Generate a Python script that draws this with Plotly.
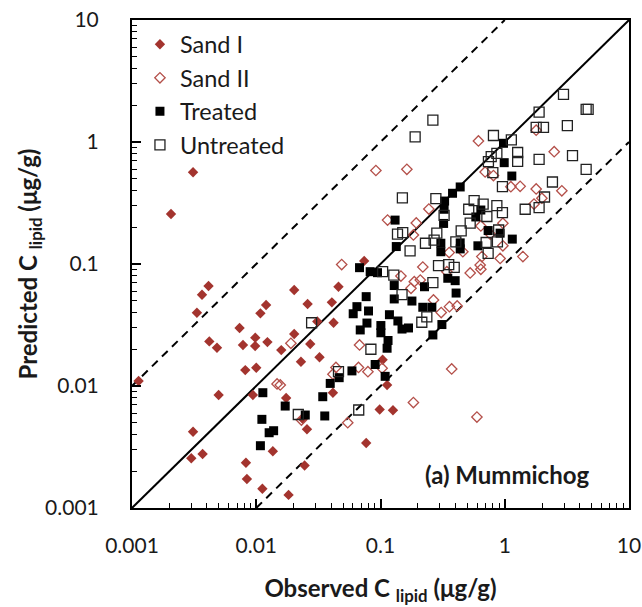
import plotly.graph_objects as go

# ---------------- data ----------------
sand1_x = [0.00206, 0.0031, 0.00113, 0.00333, 0.00366, 0.00413, 0.00419, 0.00483, 0.00498, 0.0031,
           0.0030, 0.0037, 0.00734, 0.00782, 0.00816, 0.00982, 0.0098, 0.0100, 0.0108, 0.0120,
           0.0123, 0.0094, 0.00826, 0.00841, 0.0112, 0.0182, 0.0136, 0.0159, 0.0174, 0.0202,
           0.0202, 0.0229, 0.0259, 0.0272, 0.0323, 0.031, 0.0406, 0.0459, 0.0419, 0.0414,
           0.0256, 0.0237, 0.0245, 0.0767, 0.0739, 0.104, 0.113, 0.0985, 0.126]
sand1_y = [0.257, 0.565, 0.0110, 0.0399, 0.056, 0.066, 0.0232, 0.0206, 0.00844, 0.00422,
           0.00256, 0.00277, 0.0299, 0.0217, 0.0135, 0.0249, 0.0213, 0.0141, 0.0394, 0.0461,
           0.0229, 0.00844, 0.00235, 0.00173, 0.00144, 0.00128, 0.00292, 0.0197, 0.00797, 0.0612,
           0.0267, 0.0158, 0.047, 0.0221, 0.0172, 0.0338, 0.0485, 0.0651, 0.033, 0.00881,
           0.00442, 0.00537, 0.00223, 0.00341, 0.106, 0.0164, 0.0102, 0.00642, 0.00632]

sand2_x = [0.0487, 0.0918, 0.163, 0.245, 0.114, 0.194, 0.184, 0.357, 0.219, 0.342,
           0.146, 0.187, 0.209, 0.176, 0.267, 0.308, 0.359, 0.414, 0.019, 0.0147,
           0.0156, 0.0231, 0.0438, 0.0414, 0.0545, 0.0678, 0.0665, 0.0792, 0.103, 0.184,
           0.374, 0.597, 0.614, 1.79, 2.50, 0.695, 0.811, 1.12, 1.33, 1.79,
           2.88, 1.99, 1.72, 0.642, 0.966, 0.763, 0.966, 0.46, 0.654, 0.918,
           1.40, 0.634, 0.642, 0.527]
sand2_y = [0.099, 0.584, 0.597, 0.282, 0.229, 0.217, 0.173, 0.124, 0.0945, 0.0865,
           0.0797, 0.0716, 0.0739, 0.0632, 0.0507, 0.040, 0.0447, 0.0453, 0.0224, 0.0104,
           0.0102, 0.00526, 0.0142, 0.0125, 0.0050, 0.0217, 0.0142, 0.0131, 0.014, 0.00732,
           0.0138, 0.00557, 1.02, 1.25, 0.832, 0.568, 0.531, 0.430, 0.433, 0.412,
           0.398, 0.346, 0.31, 0.205, 0.216, 0.176, 0.141, 0.126, 0.115, 0.111,
           0.115, 0.098, 0.0905, 0.0844]

treated_x = [0.977, 0.99, 1.14, 0.438, 0.38, 0.328, 0.325, 0.322, 0.131, 0.134,
             0.306, 0.306, 0.438, 0.438, 0.608, 0.642, 0.585, 0.735, 0.918, 1.15,
             0.0678, 0.0826, 0.0946, 0.348, 0.399, 0.129, 0.226, 0.406, 0.129, 0.179,
             0.219, 0.259, 0.312, 0.264, 0.0767, 0.0646, 0.0603, 0.0801, 0.0778, 0.0687,
             0.118, 0.138, 0.149, 0.168, 0.1007, 0.1007, 0.115, 0.113, 0.0906, 0.109,
             0.0589, 0.0465, 0.0394, 0.0343, 0.0356, 0.0248, 0.0113, 0.0111, 0.0127, 0.0138,
             0.0108, 0.0171]
treated_y = [0.976, 0.677, 0.526, 0.428, 0.38, 0.328, 0.281, 0.215, 0.229, 0.139,
             0.148, 0.126, 0.149, 0.133, 0.141, 0.277, 0.243, 0.188, 0.179, 0.16,
             0.0933, 0.0865, 0.0849, 0.0764, 0.073, 0.0666, 0.0651, 0.0578, 0.0517, 0.0497,
             0.0442, 0.0442, 0.0319, 0.0262, 0.054, 0.0447, 0.0391, 0.0412, 0.0328, 0.0288,
             0.0384, 0.0341, 0.0293, 0.0299, 0.0313, 0.0273, 0.0236, 0.0204, 0.015, 0.012,
             0.0133, 0.0117, 0.0105, 0.00817, 0.00568, 0.00578, 0.00881, 0.00533, 0.00414, 0.0043,
             0.00324, 0.00685]

untreated_x = [2.97, 1.89, 4.52, 4.69, 1.79, 2.05, 3.19, 0.811, 1.13, 0.264,
               0.19, 0.15, 0.279, 0.778, 0.864, 0.739, 1.27, 1.27, 1.89, 3.51,
               4.52, 0.802, 0.958, 2.42, 2.09, 1.89, 1.46, 0.567, 0.67, 0.513,
               0.718, 0.864, 0.958, 0.527, 0.446, 0.893, 0.708, 0.873, 0.735, 0.325,
               0.137, 0.151, 0.173, 0.23, 0.284, 0.27, 0.404, 0.293, 0.354, 0.392,
               0.104, 0.128, 0.149, 0.264, 0.236, 0.215, 0.0279, 0.0837, 0.0459, 0.0668,
               0.0218]
untreated_y = [2.46, 1.76, 1.85, 1.85, 1.32, 1.32, 1.36, 1.13, 1.04, 1.51,
               1.10, 0.348, 0.344, 0.758, 0.808, 0.69, 0.82, 0.695, 0.721, 0.772,
               0.597, 0.562, 0.43, 0.47, 0.354, 0.29, 0.281, 0.331, 0.31, 0.281,
               0.245, 0.301, 0.264, 0.216, 0.187, 0.19, 0.15, 0.152, 0.122, 0.25,
               0.176, 0.181, 0.128, 0.148, 0.179, 0.157, 0.152, 0.0968, 0.099, 0.094,
               0.0865, 0.0812, 0.0562, 0.0703, 0.0368, 0.0333, 0.033, 0.020, 0.0131, 0.00636,
               0.00584]

tick_vals = [0.001, 0.01, 0.1, 1, 10]
tick_text = ["0.001", "0.01", "0.1", "1", "10"]
axis_range = [0.001, 10]
ratio_factors = [1, 10, 0.1]   # 1:1 line and factor-of-10 bounds

# ---------------- figure ----------------
fig = go.Figure()

lo, hi = axis_range
for f in ratio_factors:
    x0 = max(lo, lo / f)
    x1 = min(hi, hi / f)
    fig.add_trace(go.Scatter(
        x=[x0, x1], y=[x0 * f, x1 * f], mode="lines", showlegend=False, hoverinfo="skip",
        line=dict(color="black", width=2, dash="solid" if f == 1 else "8px,6px")))

red = "#A3342E"
fig.add_trace(go.Scatter(x=sand1_x, y=sand1_y, mode="markers", name="Sand I",
                         marker=dict(symbol="diamond", size=8, color=red)))
fig.add_trace(go.Scatter(x=sand2_x, y=sand2_y, mode="markers", name="Sand II",
                         marker=dict(symbol="diamond-open", size=8, color="#B4504A",
                                     line=dict(width=1.3))))
fig.add_trace(go.Scatter(x=treated_x, y=treated_y, mode="markers", name="Treated",
                         marker=dict(symbol="square", size=9, color="black")))
fig.add_trace(go.Scatter(x=untreated_x, y=untreated_y, mode="markers", name="Untreated",
                         marker=dict(symbol="square-open", size=10, color="#222222",
                                     line=dict(width=1.3))))

minor_vals = [d * m for d in [0.001, 0.01, 0.1, 1] for m in range(2, 10)]
font_main = "Lato, 'Open Sans', sans-serif"
txt = "#1a1a1a"

axis_common = dict(
    type="log", range=[-3, 1], tickvals=tick_vals, ticktext=tick_text,
    ticks="inside", ticklen=9, tickwidth=1.5, tickcolor="black",
    minor=dict(tickvals=minor_vals, ticks="inside", ticklen=5, tickwidth=1.2, tickcolor="black"),
    showline=True, linecolor="black", linewidth=2, mirror=True,
    showgrid=False, zeroline=False, automargin=False, ticklabeloverflow="allow",
    tickfont=dict(size=21, color=txt, family=font_main),
)

fig.update_xaxes(**axis_common, ticklabelstandoff=18,
                 title=dict(text="<b>Observed C <sub>lipid</sub> (μg/g)</b>",
                            font=dict(size=24, color=txt, family=font_main), standoff=24))
fig.update_yaxes(**axis_common, ticklabelstandoff=27,
                 title=dict(text="<b>Predicted C <sub>lipid</sub> (μg/g)</b>",
                            font=dict(size=24, color=txt, family=font_main), standoff=1))

fig.add_annotation(text="<b>(a) Mummichog</b>", xref="paper", yref="paper",
                   x=0.924, y=0.068, xanchor="right", yanchor="middle", showarrow=False,
                   font=dict(size=24, color=txt, family=font_main))

fig.update_layout(
    width=642, height=607,
    margin=dict(l=132, r=13, t=20, b=99),
    paper_bgcolor="white", plot_bgcolor="white",
    font=dict(family=font_main, color=txt),
    legend=dict(x=0.016, y=0.995, xanchor="left", yanchor="top",
                font=dict(size=23.5, color=txt, family=font_main),
                bgcolor="rgba(0,0,0,0)", itemsizing="trace"),
)

fig.write_html("out.html", config={"displayModeBar": False},
               post_script="document.body.style.margin='0px';")
